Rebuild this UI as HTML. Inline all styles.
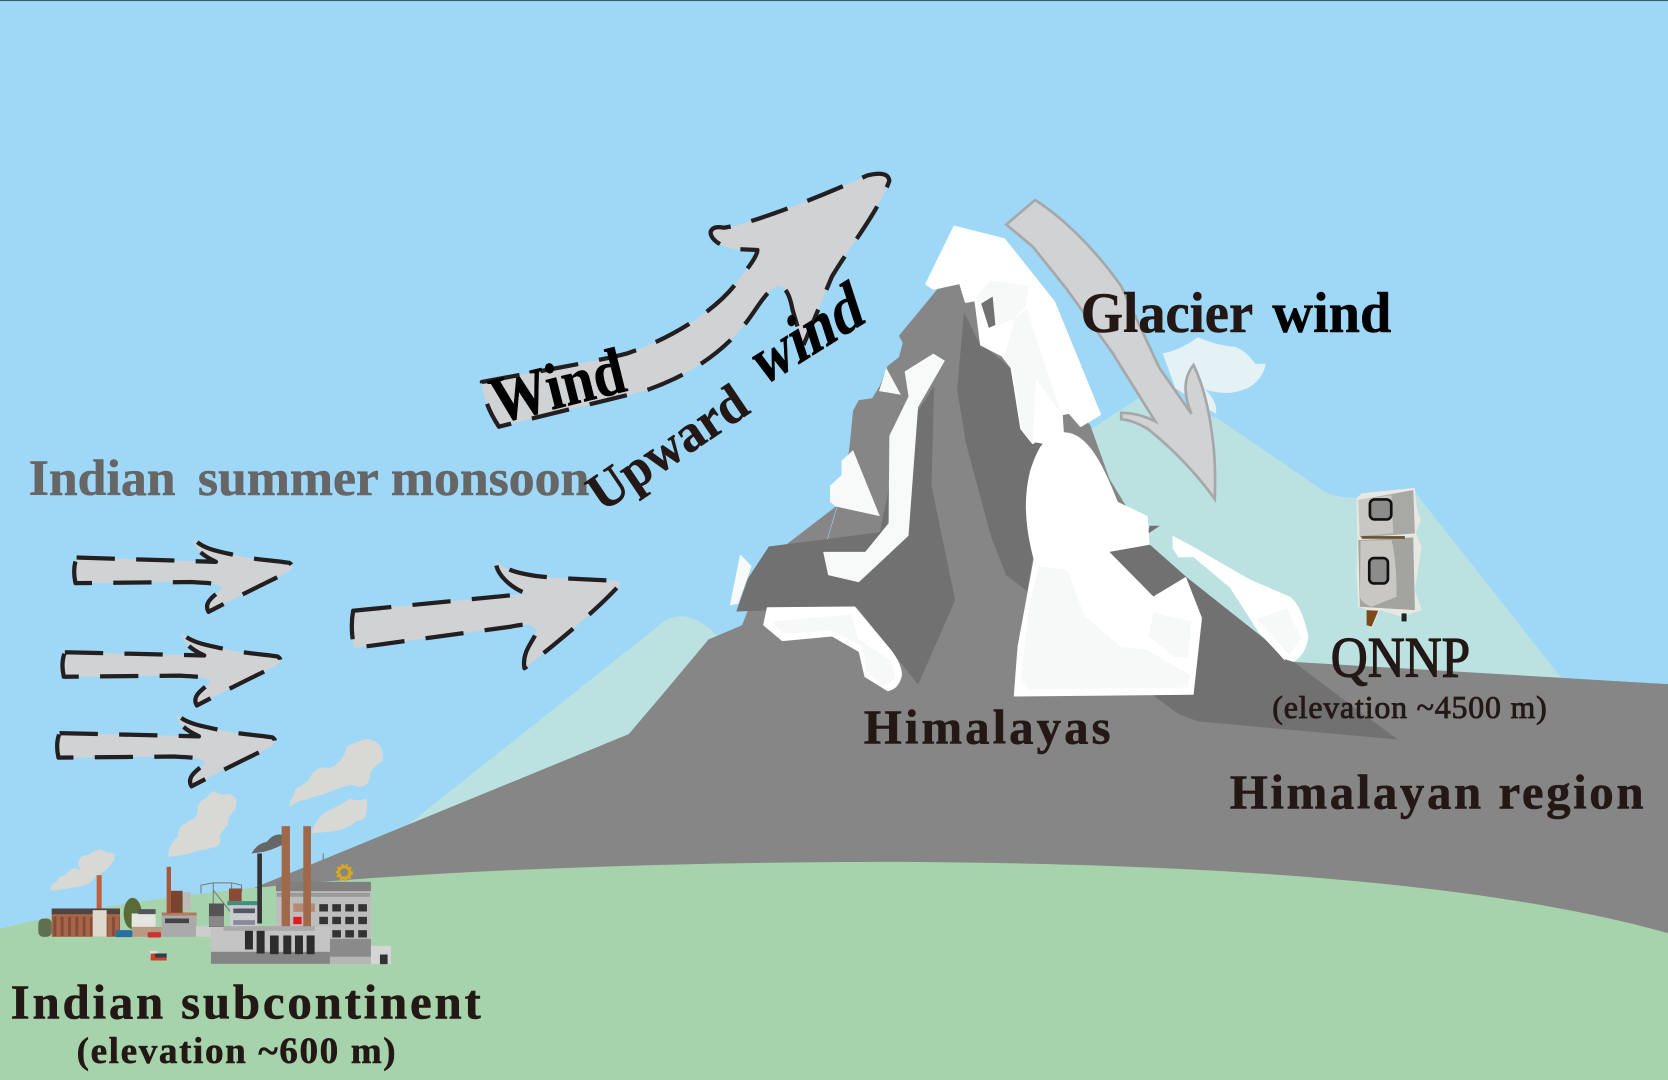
<!DOCTYPE html>
<html lang="en">
<head>
<meta charset="utf-8">
<title>Himalayas wind diagram</title>
<style>
html,body{margin:0;padding:0;background:#9fd8f7}
svg{display:block}
text{font-family:"Liberation Serif",serif;font-weight:bold;fill:#231815;stroke:#231815;stroke-width:.5}
</style>
</head>
<body>
<svg xmlns="http://www.w3.org/2000/svg" width="1668" height="1080" viewBox="0 0 1568 1015" preserveAspectRatio="none">
<defs>
<pattern id="brick" x="0" y="640" width="22" height="70" patternUnits="userSpaceOnUse">
<rect width="22" height="70" fill="#a5654a"/>
<rect x="6" y="10" width="9" height="58" fill="#8a4a35"/>
</pattern>
</defs>
<rect width="1568" height="1015" fill="#9fd8f7"/>
<rect width="1568" height="1" fill="#3c5a6a"/>

<!-- back mountains -->
<path d="M380 778 L618 589 Q642 566 674 597 L720 720 Z" fill="#bbe2e0"/>
<path d="M1000 420 L1072 373 L1144 393 L1238 457 Q1250 468 1275 468 L1332 465 L1470 640 L1200 660 Z" fill="#bbe2e0"/>
<path d="M1093 332 Q1108 330 1126 317 Q1145 325 1161 326 Q1172 330 1180 342 L1190 342 Q1185 365 1158 369 Q1145 370 1133 366 Q1145 378 1143 389 L1105 365 Z" fill="#e4f2f5"/>

<!-- grey base -->
<path d="M235 836 L591 690 L625 650 L666 601 L699 587 L720 560 L1216 622 L1568 643 L1568 885 L235 885 Z" fill="#868686"/>

<!-- right dark slope -->
<path d="M1030 520 L1081 512 L1115 542 L1216 622 L1253 650 L1314 695 L1126 678 L1108 671 L1086 655 L1050 620 Z" fill="#717172"/>

<!-- mountain in zoom coordinates -->
<g transform="translate(658 188) scale(.3597 .3357)">
<path d="M110 1190 L125 1150 L180 970 L225 965 L355 858 L390 700 L400 590 L415 560 L450 555 L470 520 L490 465 L520 440 L530 400 L520 380 L620 250 L680 232 L720 280 L1020 630 L1070 780 L1175 965 L1190 1390 L110 1500 Z" fill="#868686"/>
<!-- dark facets -->
<path d="M180 970 L470 930 L495 800 L570 590 L612 520 L605 800 L667 1120 L570 1357 L410 1140 L95 1152 L125 1060 Z" fill="#717172"/>
<path d="M690 315 L730 400 L790 450 L810 470 L840 640 L870 680 L895 680 L860 760 L850 860 L870 1000 L855 1095 L800 1050 L760 940 L695 680 L672 530 Z" fill="#717172"/>
<path d="M1070 985 L1175 965 L1270 1055 L1312 1170 L1290 1385 L1190 1390 L1100 1300 Z" fill="#717172"/>
<path d="M1170 935 L1175 912 L1202 912 Z" fill="#717172"/>
<!-- snow -->
<path d="M665 75 L795 110 L925 285 L1045 600 L995 632 L965 595 L945 600 L948 650 L900 680 L875 675 L870 680 L840 640 L815 470 L790 435 L735 405 L720 280 L695 285 L680 232 L610 248 L592 235 Z" fill="#fff" stroke="#fff" stroke-width="6" stroke-linejoin="round"/>
<path d="M720 270 L760 225 L860 240 L850 300 L825 325 L795 440 L815 470 L840 640 L870 680 L878 500 L945 600 L880 390 L855 305 L820 335 L772 352 L730 300 Z" fill="#f7f9f8"/>
<path d="M735 290 L765 270 L772 350 L755 358 Z" fill="#717172"/>
<path d="M950 650 C1010 650 1050 730 1092 845 L1170 885 L1175 965 L1070 985 L1185 1110 L1270 1055 L1312 1170 L1290 1385 L820 1390 L830 1250 L872 1005 C845 900 840 780 890 690 Q920 650 950 650 Z" fill="#fff"/>
<path d="M885 1025 L960 1035 L1005 1165 L1100 1250 L1170 1260 L1280 1330 L1275 1365 L860 1370 L838 1340 L860 1140 Z" fill="#f7f9f8"/>
<path d="M1185 1155 L1285 1180 L1275 1280 L1240 1280 L1172 1220 Z" fill="#f7f9f8"/>
<path d="M610 430 L640 450 L570 580 L545 940 L415 1070 L335 1050 L322 985 L432 985 L493 905 L495 660 L545 550 L535 480 Z" fill="#f8faf9"/>
<path d="M370 730 L400 700 L470 885 L355 858 L340 845 L340 800 L370 770 Z" fill="#f8faf9"/>
<path d="M487 470 L525 545 L468 535 Z" fill="#f8faf9"/>
<path d="M105 992 L135 1025 L100 1130 L78 1135 Z" fill="#f8faf9"/>
<path d="M175 1140 L405 1138 L500 1260 Q528 1300 528 1330 Q520 1370 490 1375 L430 1335 L415 1265 L345 1222 L215 1235 L165 1190 Z" fill="#fff"/>
<path d="M185 1180 L395 1160 L415 1230 L500 1290 L510 1340 L480 1360 L435 1320 L425 1250 L345 1205 L220 1215 Z" fill="#f7f9f8"/>
<path d="M1235 940 L1280 965 L1385 1030 L1490 1095 L1530 1290 L1460 1210 L1385 1085 L1290 1000 L1250 1000 L1235 975 Z" fill="#fff"/>
<line x1="358" y1="860" x2="333" y2="950" stroke="#9fd8f7" stroke-width="1.5"/>
</g>
<path d="M1176 545 L1213 561 Q1224 570 1230 598 Q1228 615 1216 622 L1206 619 L1190 600 L1183 594 L1170 560 Z" fill="#fff"/>
<path d="M1181 582 L1210 572 L1223 600 L1212 615 Z" fill="#f7f9f8"/>

<!-- green hill -->
<path d="M0 873 C200 820 600 810 850 810 C1150 812 1400 830 1568 877 L1568 1015 L0 1015 Z" fill="#a6d3ab"/>

<!-- wind arrows -->
<g fill="#d1d2d4" stroke="#231f20" stroke-width="4" stroke-dasharray="36 20" stroke-linejoin="round">
<path d="M72 524 L203 528 C190 522 182 515 182 506 C190 516 205 518 222 522 C240 526 260 527 272 529 Q278 533 270 538 C245 550 215 565 196 575 C190 565 205 558 209 553 C205 547 190 548 180 547 L71 548 Q68 535 72 524 Z"/>
<path d="M61 613 L192 616 C179 610 171 603 171 595 C179 604 194 606 211 610 C229 614 249 615 261 617 Q267 621 259 626 C234 638 204 653 185 663 C179 653 194 646 198 641 C194 635 179 636 169 635 L60 636 Q57 623 61 613 Z"/>
<path d="M56 689 L187 692 C174 686 166 679 166 671 C174 680 189 682 206 686 C224 690 244 691 256 693 Q262 697 254 702 C229 714 199 729 180 739 C174 729 189 722 193 717 C189 711 174 712 164 711 L55 712 Q52 699 56 689 Z"/>
<path d="M332 574 L495 558 C480 552 466 540 466 527 C475 537 495 541 521 543 L582 546 L583 549 C560 575 510 615 493 628 C490 610 505 600 504 592 C500 585 490 587 480 589 L333 609 Q329 590 332 574 Z"/>
<path d="M453 359 C500 350 560 340 590 332 C640 315 680 285 695 262 C705 250 712 240 712 235 L690 234 C678 232 668 225 668 218 Q670 212 680 214 C700 212 760 190 815 165 Q835 160 836 170 C825 200 800 230 782 260 L755 325 L745 291 C742 275 738 270 732 269 C720 272 712 290 700 305 C680 330 650 352 607 367 L469 401 Q455 380 453 359 Z"/>
</g>

<!-- glacier arrow -->
<path d="M973 188 C1000 205 1030 235 1054 269 L1090 346 L1120 389 Q1108 360 1122 343 Q1135 370 1140 413 Q1143 435 1142 469 Q1115 432 1079 403 Q1065 395 1054 394 L1054 388 Q1070 388 1086 396 L1046 332 L1003 272 L971 232 L946 211 Z" fill="#d1d2d4" stroke="#a6a7a9" stroke-width="2.5"/>

<!-- factories (zoom coordinates) -->
<g transform="translate(0 658) scale(.3133)">
<g fill="#d8d8d5">
<path d="M150 570 Q150 550 185 535 Q215 500 240 510 Q235 475 290 450 Q330 455 345 470 Q330 510 285 530 Q270 560 225 560 Q190 570 150 570 Z"/>
<path d="M505 470 Q505 430 530 420 Q550 360 585 355 Q605 300 640 272 Q670 290 690 280 Q715 310 705 330 Q680 350 685 375 Q660 395 655 420 Q640 450 600 450 Q560 465 505 470 Z"/>
<path d="M865 320 Q880 275 925 240 Q950 190 985 205 Q1030 190 1040 140 Q1090 110 1130 125 Q1160 155 1145 185 Q1110 205 1110 230 Q1090 260 1050 255 Q1010 265 990 275 Q930 295 905 300 Z"/>
<path d="M935 400 Q950 345 990 330 Q1030 310 1050 295 Q1075 305 1100 295 Q1105 330 1095 350 Q1070 360 1055 375 Q1020 395 980 395 Z"/>
<circle cx="165" cy="560" r="12"/><circle cx="190" cy="545" r="18"/><circle cx="225" cy="530" r="25"/><circle cx="260" cy="490" r="25"/><circle cx="300" cy="470" r="22"/><circle cx="330" cy="472" r="15"/>
<circle cx="545" cy="435" r="28"/><circle cx="565" cy="400" r="30"/><circle cx="610" cy="385" r="40"/><circle cx="640" cy="420" r="22"/><circle cx="630" cy="330" r="38"/><circle cx="690" cy="305" r="20"/>
<circle cx="905" cy="280" r="22"/><circle cx="965" cy="225" r="20"/><circle cx="1050" cy="220" r="35"/><circle cx="1080" cy="230" r="30"/><circle cx="1100" cy="155" r="38"/><circle cx="1125" cy="165" r="25"/>
<circle cx="985" cy="365" r="28"/><circle cx="1020" cy="345" r="28"/><circle cx="1075" cy="340" r="22"/>
</g>
<path d="M755 460 Q770 430 800 425 Q825 395 850 405 L845 435 Q815 450 790 455 Z" fill="#666"/>
<rect x="115" y="655" width="40" height="55" rx="15" fill="#5f7050"/>
<ellipse cx="398" cy="640" rx="27" ry="47" fill="#5a6b3a"/>
<rect x="155" y="640" width="205" height="70" fill="url(#brick)"/>
<rect x="155" y="625" width="205" height="17" fill="#4e4540"/>
<rect x="278" y="630" width="42" height="80" fill="#ddd9cc"/>
<rect x="290" y="525" width="15" height="100" fill="#c0603a"/>
<rect x="395" y="640" width="72" height="42" fill="#e4e4e0"/>
<rect x="415" y="627" width="52" height="15" fill="#555"/>
<rect x="395" y="680" width="90" height="30" fill="#b89a80"/>
<rect x="347" y="690" width="50" height="21" rx="4" fill="#2a6ea0"/>
<rect x="443" y="696" width="40" height="16" rx="4" fill="#c33"/>
<rect x="485" y="645" width="105" height="65" fill="#aaa"/>
<rect x="485" y="637" width="105" height="9" fill="#b57a5e"/>
<rect x="495" y="655" width="72" height="14" fill="#444"/>
<rect x="500" y="500" width="13" height="140" fill="#a5583a"/>
<rect x="513" y="572" width="35" height="66" fill="#7a4530"/>
<rect x="550" y="576" width="22" height="55" fill="#bbb"/>
<rect x="588" y="678" width="50" height="32" fill="#ccc"/>
<rect x="450" y="752" width="22" height="18" fill="#ddd"/>
<rect x="452" y="760" width="48" height="21" fill="#c8452c"/>
<rect x="465" y="760" width="35" height="12" fill="#2d3d4a"/>
<path d="M603 580 V555 L640 548 H695 L725 555 V575 M640 548 V650 M695 548 V650 M640 570 L695 640" fill="none" stroke="#777" stroke-width="3"/>
<rect x="627" y="610" width="45" height="70" fill="#555"/>
<rect x="627" y="648" width="45" height="30" fill="#888"/>
<rect x="690" y="612" width="85" height="70" fill="#c8ccd0"/>
<rect x="682" y="603" width="90" height="12" fill="#3f8f80"/>
<rect x="687" y="565" width="38" height="38" fill="#8a4a35"/>
<rect x="700" y="625" width="65" height="14" fill="#556"/>
<rect x="700" y="660" width="65" height="14" fill="#889"/>
<rect x="772" y="460" width="14" height="210" fill="#333"/>
<rect x="828" y="552" width="285" height="170" fill="#bdbdbd"/>
<rect x="828" y="545" width="285" height="28" fill="#808080"/>
<rect x="830" y="578" width="280" height="12" fill="#9a9a9a"/>
<rect x="880" y="610" width="65" height="25" fill="#b58a70"/>
<rect x="880" y="650" width="25" height="22" fill="#e21b22"/>
<g fill="#333">
<rect x="958" y="612" width="26" height="22"/><rect x="997" y="612" width="26" height="22"/><rect x="1036" y="612" width="26" height="22"/><rect x="1075" y="612" width="26" height="22"/>
<rect x="958" y="650" width="26" height="22"/><rect x="997" y="650" width="26" height="22"/><rect x="1036" y="650" width="26" height="22"/><rect x="1075" y="650" width="26" height="22"/>
<rect x="997" y="690" width="26" height="22"/><rect x="1036" y="690" width="26" height="22"/><rect x="1075" y="690" width="26" height="22"/>
</g>
<rect x="845" y="378" width="25" height="302" fill="#a0694a"/>
<rect x="910" y="378" width="23" height="302" fill="#a0694a"/>
<rect x="633" y="680" width="357" height="76" fill="#c4c4c4"/>
<rect x="670" y="678" width="275" height="14" fill="#aaa"/>
<rect x="633" y="755" width="357" height="36" fill="#848484"/>
<rect x="990" y="716" width="123" height="54" fill="#8a8a8a"/>
<rect x="990" y="770" width="123" height="21" fill="#b5b5b5"/>
<rect x="1113" y="737" width="60" height="55" fill="#d5d5d5"/>
<rect x="1140" y="763" width="23" height="29" fill="#333"/>
<g fill="#2d2d2d">
<rect x="735" y="692" width="24" height="56"/><rect x="770" y="692" width="24" height="68"/><rect x="810" y="706" width="26" height="56"/><rect x="850" y="706" width="24" height="56"/><rect x="885" y="706" width="24" height="56"/><rect x="920" y="706" width="24" height="56"/>
</g>
<circle cx="1033" cy="517" r="17" fill="none" stroke="#d9a71e" stroke-width="9"/>
<circle cx="1033" cy="517" r="23" fill="none" stroke="#d9a71e" stroke-width="6" stroke-dasharray="7 7"/>
<line x1="970" y1="460" x2="970" y2="540" stroke="#888" stroke-width="4"/>
</g>

<!-- QNNP device -->
<g transform="translate(1175 423) scale(.3133)">
<path d="M320 145 L335 130 L495 113 L500 170 L512 210 L498 250 L515 290 L495 420 L515 480 L455 500 L390 480 L365 535 L350 520 L350 478 L325 470 L320 370 L322 260 Z" fill="#e8e8e2"/>
<path d="M325 150 L490 120 L495 250 L330 262 Z" fill="#a8a8a4"/>
<path d="M325 150 L425 135 L430 250 L330 258 Z" fill="#c9c7c3"/>
<path d="M325 270 L490 262 L495 480 L330 470 Z" fill="#a3a3a0"/>
<path d="M332 272 L425 270 Q440 330 440 440 L365 470 Q335 460 330 440 Z" fill="#c9c7c3"/>
<rect x="360" y="148" width="64" height="60" rx="14" fill="#8c8c8a" stroke="#111" stroke-width="8"/>
<rect x="358" y="324" width="56" height="76" rx="14" fill="#8c8c8a" stroke="#111" stroke-width="8"/>
<rect x="335" y="258" width="130" height="8" fill="#6b5030"/>
<path d="M350 480 L385 482 L365 530 L350 525 Z" fill="#7a4a1c"/>
<rect x="455" y="490" width="15" height="24" fill="#222"/>
</g>

<!-- labels -->
<text x="27" y="465" font-size="48" style="fill:#666;stroke:#666" textLength="138" lengthAdjust="spacingAndGlyphs">Indian</text>
<text x="186" y="465" font-size="48" style="fill:#666;stroke:#666" textLength="368" lengthAdjust="spacingAndGlyphs">summer monsoon</text>
<text transform="translate(467 398) rotate(-14)" font-size="62" style="fill:#000;stroke:#000" textLength="128" lengthAdjust="spacingAndGlyphs">Wind</text>
<text transform="translate(566 482) rotate(-34)" font-size="50" textLength="170" lengthAdjust="spacingAndGlyphs">Upward</text>
<text transform="translate(716 364) rotate(-32) skewX(-14)" font-size="62" style="fill:#000;stroke:#000" textLength="116" lengthAdjust="spacingAndGlyphs">wind</text>
<text x="1016" y="312" font-size="54" textLength="162" lengthAdjust="spacingAndGlyphs">Glacier</text>
<text x="1196" y="312" font-size="54" style="fill:#000;stroke:#000" textLength="112" lengthAdjust="spacingAndGlyphs">wind</text>
<text x="812" y="699" font-size="46" textLength="232" lengthAdjust="spacing">Himalayas</text>
<text x="1251" y="636" font-size="54" style="font-weight:normal;stroke-width:1.2" textLength="131" lengthAdjust="spacingAndGlyphs">QNNP</text>
<text x="1196" y="675" font-size="30" style="font-weight:normal;stroke-width:.8" textLength="258" lengthAdjust="spacing">(elevation ~4500 m)</text>
<text x="1156" y="760" font-size="46" textLength="389" lengthAdjust="spacing">Himalayan region</text>
<text x="10" y="957" font-size="46" textLength="442" lengthAdjust="spacing">Indian subcontinent</text>
<text x="72" y="999" font-size="35" textLength="300" lengthAdjust="spacing">(elevation ~600 m)</text>
</svg>
</body>
</html>
